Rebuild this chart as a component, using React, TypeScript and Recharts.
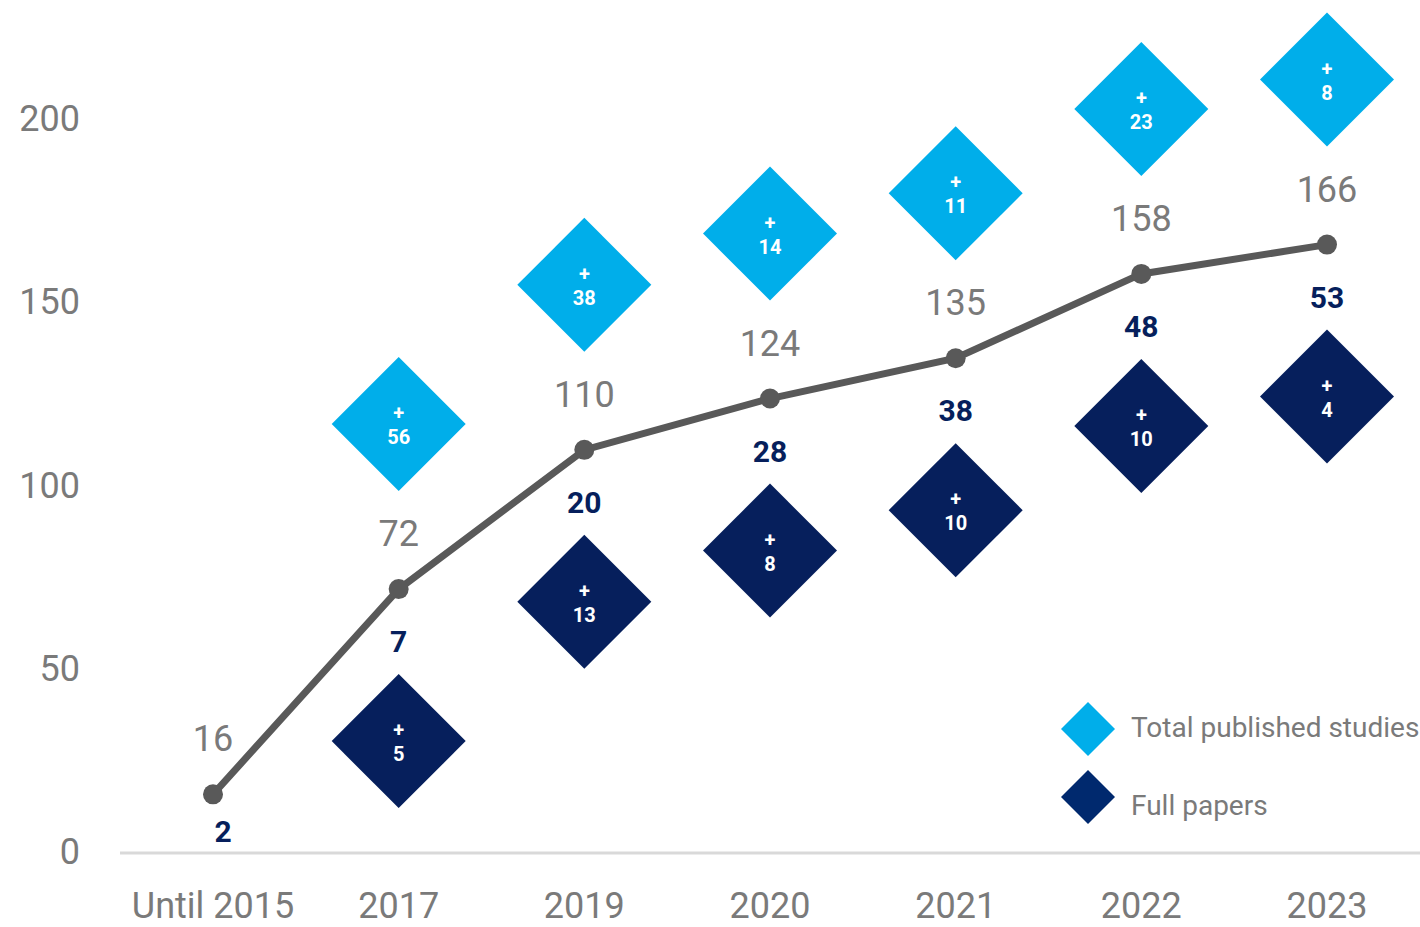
import React from "react";
import { ComposedChart, Line, XAxis, YAxis } from "recharts";

const years = ["Until 2015", "2017", "2019", "2020", "2021", "2022", "2023"];
const totalStudies = [16, 72, 110, 124, 135, 158, 166];
const fullPapers = [2, 7, 20, 28, 38, 48, 53];
const totalAdded = [null, 56, 38, 14, 11, 23, 8];
const fullAdded = [null, 5, 13, 8, 10, 10, 4];
const yTicks = [0, 50, 100, 150, 200];
const legendItems = ["Total published studies", "Full papers"];

const LIGHT = "#00AEEA";
const DARK = "#061F5C";
const LINE = "#595959";
const GREY_TEXT = "#7A7A7A";
const FONT = "Roboto, 'Noto Sans', sans-serif";

const rows = years.map((year, i) => ({
  year,
  total: totalStudies[i],
  full: fullPapers[i],
  totalAdd: totalAdded[i],
  fullAdd: fullAdded[i],
}));

const HALF = 67; // diamond half diagonal

function Diamond({ x, y, fill, value }: { x: number; y: number; fill: string; value: number }) {
  return (
    <g>
      <polygon
        points={`${x},${y - HALF} ${x + HALF},${y} ${x},${y + HALF} ${x - HALF},${y}`}
        fill={fill}
      />
      <text x={x} y={y - 4} textAnchor="middle" fill="#fff" fontSize={20} fontWeight={700} fontFamily={FONT}>
        +
      </text>
      <text x={x} y={y + 20} textAnchor="middle" fill="#fff" fontSize={20} fontWeight={700} fontFamily={FONT}>
        {value}
      </text>
    </g>
  );
}

function PointDot(props: any) {
  const { cx, cy, payload, index } = props;
  if (cx == null || cy == null) return null;
  const first = payload.totalAdd == null;
  return (
    <g key={`dot-${index}`}>
      <circle cx={cx} cy={cy} r={10} fill={LINE} />
      <text x={cx} y={cy - 43} textAnchor="middle" fill={GREY_TEXT} fontSize={36} fontFamily={FONT}>
        {payload.total}
      </text>
      <text
        x={cx + (first ? 10 : 0)}
        y={cy + (first ? 48 : 63)}
        textAnchor="middle"
        fill={DARK}
        fontSize={30}
        fontWeight={700}
        fontFamily={FONT}
      >
        {payload.full}
      </text>
      {payload.totalAdd != null && <Diamond x={cx} y={cy - 165} fill={LIGHT} value={payload.totalAdd} />}
      {payload.fullAdd != null && <Diamond x={cx} y={cy + 152} fill={DARK} value={payload.fullAdd} />}
    </g>
  );
}

function XTick(props: any) {
  const { x, y, payload } = props;
  return (
    <text x={x} y={y + 57} textAnchor="middle" fill={GREY_TEXT} fontSize={36} fontFamily={FONT}>
      {payload.value}
    </text>
  );
}

function YTick(props: any) {
  const { x, y, payload } = props;
  return (
    <text x={x - 32} y={y + 11} textAnchor="end" fill={GREY_TEXT} fontSize={36} fontFamily={FONT}>
      {payload.value}
    </text>
  );
}

function LegendBox() {
  const colors = [LIGHT, "#00296E"];
  const textShift = [-2, 8];
  return (
    <div style={{ position: "absolute", left: 1059, top: 695, fontFamily: FONT }}>
      {legendItems.map((label, i) => (
        <div key={label} style={{ display: "flex", alignItems: "center", height: 68 }}>
          <svg width={58} height={58} style={{ marginRight: 14 }}>
            <polygon points="29,2 56,29 29,56 2,29" fill={colors[i]} />
          </svg>
          <span
            style={{
              fontSize: 28,
              color: GREY_TEXT,
              whiteSpace: "nowrap",
              position: "relative",
              top: textShift[i],
            }}
          >
            {label}
          </span>
        </div>
      ))}
    </div>
  );
}

export default function App() {
  return (
    <div style={{ position: "absolute", left: 0, top: 0, width: 1420, height: 927, background: "#fff" }}>
      <ComposedChart width={1420} height={927} data={rows} margin={{ top: 120, right: 0, bottom: 0, left: 0 }}>
        <XAxis
          dataKey="year"
          height={74}
          interval={0}
          padding={{ left: 93, right: 93 }}
          tickLine={false}
          axisLine={{ stroke: "#D9D9D9", strokeWidth: 3 }}
          tick={<XTick />}
        />
        <YAxis
          domain={[0, 200]}
          ticks={yTicks}
          width={120}
          axisLine={false}
          tickLine={false}
          tick={<YTick />}
        />
        <Line
          dataKey="total"
          stroke={LINE}
          strokeWidth={7}
          dot={<PointDot />}
          activeDot={false}
          isAnimationActive={false}
        />
      </ComposedChart>
      <LegendBox />
    </div>
  );
}
